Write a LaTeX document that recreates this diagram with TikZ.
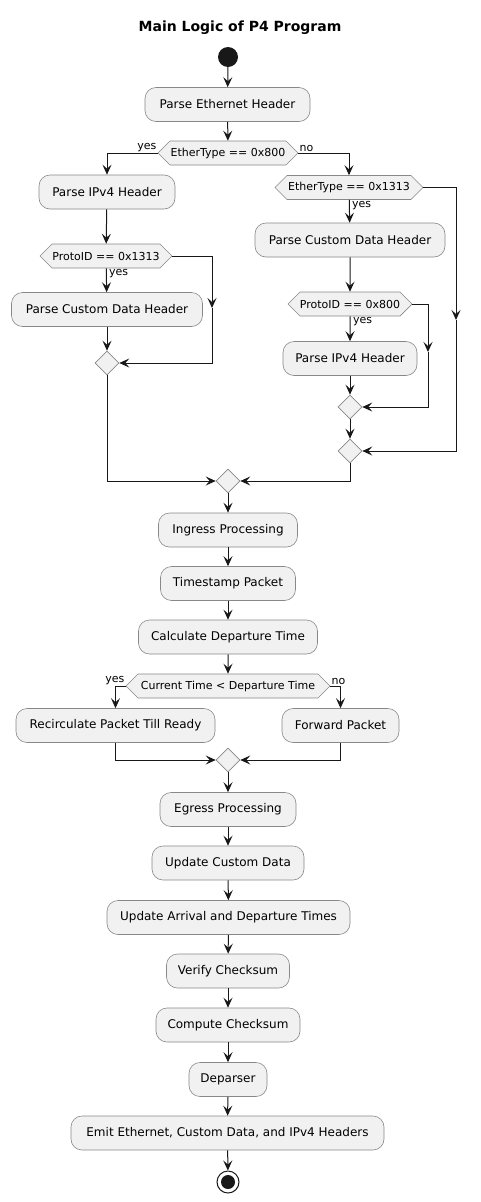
\documentclass[tikz,border=0pt]{standalone}
\usepackage{fontspec}
\setmainfont{DejaVu Sans}
\usetikzlibrary{shapes.geometric,shapes.symbols,arrows.meta}
\definecolor{boxfill}{HTML}{F1F1F1}
\definecolor{boxline}{HTML}{888888}
\definecolor{ln}{HTML}{181818}
\tikzset{
  x=1pt,y=-1pt,
  act/.style={draw=boxline,fill=boxfill,rounded corners=11pt,minimum height=34pt,inner sep=0pt,font=\fontsize{12}{14}\selectfont,line width=0.6pt},
  hex/.style={draw=boxline,fill=boxfill,signal,signal to=east and west,signal pointer angle=90,minimum height=24pt,inner sep=0pt,font=\fontsize{11}{13}\selectfont,line width=0.6pt},
  merge/.style={draw=boxline,fill=boxfill,diamond,minimum width=24pt,minimum height=24pt,inner sep=0pt,line width=0.6pt},
  arr/.style={draw=ln,line width=1pt,-{Stealth[length=10pt,width=9pt,inset=4pt]}},
  ln/.style={draw=ln,line width=1pt},
  lbl/.style={font=\fontsize{11}{13}\selectfont,inner sep=0pt}
}
\begin{document}
\begin{tikzpicture}
\useasboundingbox (0,0) rectangle (480,1202);
\node[font=\bfseries\fontsize{14}{16}\selectfont] (title) at (240,28) {Main Logic of P4 Program};
\node[circle,fill=ln,minimum size=20pt,inner sep=0pt] (start) at (228,57) {};
\node[act,minimum width=165pt] (b1) at (227.5,104.5) {Parse Ethernet Header};
\node[hex,minimum width=140pt] (h1) at (228,153) {EtherType == 0x800};
\node[act,minimum width=136pt] (b2) at (107,192) {Parse IPv4 Header};
\node[hex,minimum width=132pt] (h2) at (106,256) {ProtoID == 0x1313};
\node[act,minimum width=191pt] (b3) at (107,309.5) {Parse Custom Data Header};
\node[merge] (d1) at (107,363) {};
\node[hex,minimum width=148pt] (h3) at (349,187.5) {EtherType == 0x1313};
\node[act,minimum width=190pt] (b4) at (350,240) {Parse Custom Data Header};
\node[hex,minimum width=124pt] (h4) at (350,304) {ProtoID == 0x800};
\node[act,minimum width=134pt] (b5) at (350,358.5) {Parse IPv4 Header};
\node[merge] (d2) at (350,407) {};
\node[merge] (d3) at (350,451) {};
\node[merge] (d4) at (228,481) {};
\node[act,minimum width=139pt] (b6) at (228,530) {Ingress Processing};
\node[act,minimum width=135pt] (b7) at (228,583.5) {Timestamp Packet};
\node[act,minimum width=179pt] (b8) at (228,637) {Calculate Departure Time};
\node[hex,minimum width=204pt] (h5) at (228,686) {Current Time < Departure Time};
\node[act,minimum width=199pt] (b9) at (115.5,725.5) {Recirculate Packet Till Ready};
\node[act,minimum width=117pt] (b10) at (340.5,725.5) {Forward Packet};
\node[merge] (d5) at (228,760) {};
\node[act,minimum width=136pt] (b11) at (228,809.5) {Egress Processing};
\node[act,minimum width=152pt] (b12) at (228,863) {Update Custom Data};
\node[act,minimum width=243pt] (b13) at (228.5,917.5) {Update Arrival and Departure Times};
\node[act,minimum width=123pt] (b14) at (228,971) {Verify Checksum};
\node[act,minimum width=144pt] (b15) at (228,1025) {Compute Checksum};
\node[act,minimum width=78pt] (b16) at (228,1079.5) {Deparser};
\node[act,minimum width=313pt] (b17) at (227.5,1133) {Emit Ethernet, Custom Data, and IPv4 Headers};
\node[circle,draw=ln,line width=1pt,fill=white,minimum size=22pt,inner sep=0pt] (end) at (228,1182) {};
\node[circle,fill=ln,minimum size=14pt,inner sep=0pt] (endin) at (end) {};
% coordinates
\coordinate (m1) at (212,308);
\coordinate (m2) at (428,352);
\coordinate (m3) at (456,320);
% connectors
\draw[arr] (start) -- (b1);
\draw[arr] (b1) -- (h1);
\draw[arr] (h1.west) -| (b2.north);
\node[lbl,anchor=south east] (ly1) at ([xshift=-1pt,yshift=1pt]h1.west) {yes};
\draw[arr] (h1.east) -| (h3.north);
\node[lbl,anchor=south west] (ln1) at ([xshift=1pt,yshift=1pt]h1.east) {no};
\draw[arr] (b2) -- (h2);
\draw[arr] (h2) -- (b3);
\node[lbl,anchor=north west] (ly2) at ([xshift=3pt,yshift=-1pt]h2.south) {yes};
\draw[arr] (b3) -- (d1);
\draw[arr] (h2.east) -| (m1);
\draw[arr] (m1) |- (d1.east);
\draw[arr] (h3) -- (b4);
\node[lbl,anchor=north west] (ly3) at ([xshift=3pt,yshift=-1pt]h3.south) {yes};
\draw[arr] (b4) -- (h4);
\draw[arr] (h4) -- (b5);
\node[lbl,anchor=north west] (ly4) at ([xshift=3pt,yshift=-1pt]h4.south) {yes};
\draw[arr] (b5) -- (d2);
\draw[arr] (h4.east) -| (m2);
\draw[arr] (m2) |- (d2.east);
\draw[arr] (d2) -- (d3);
\draw[arr] (h3.east) -| (m3);
\draw[arr] (m3) |- (d3.east);
\draw[arr] (d1.south) |- (d4.west);
\draw[arr] (d3.south) |- (d4.east);
\draw[arr] (d4) -- (b6);
\draw[arr] (b6) -- (b7);
\draw[arr] (b7) -- (b8);
\draw[arr] (b8) -- (h5);
\draw[arr] (h5.west) -| (b9.north);
\node[lbl,anchor=south east] (ly5) at ([xshift=-1pt,yshift=1pt]h5.west) {yes};
\draw[arr] (h5.east) -| (b10.north);
\node[lbl,anchor=south west] (ln5) at ([xshift=1pt,yshift=1pt]h5.east) {no};
\draw[arr] (b9.south) |- (d5.west);
\draw[arr] (b10.south) |- (d5.east);
\draw[arr] (d5) -- (b11);
\draw[arr] (b11) -- (b12);
\draw[arr] (b12) -- (b13);
\draw[arr] (b13) -- (b14);
\draw[arr] (b14) -- (b15);
\draw[arr] (b15) -- (b16);
\draw[arr] (b16) -- (b17);
\draw[arr] (b17) -- (end);
\end{tikzpicture}
\end{document}
